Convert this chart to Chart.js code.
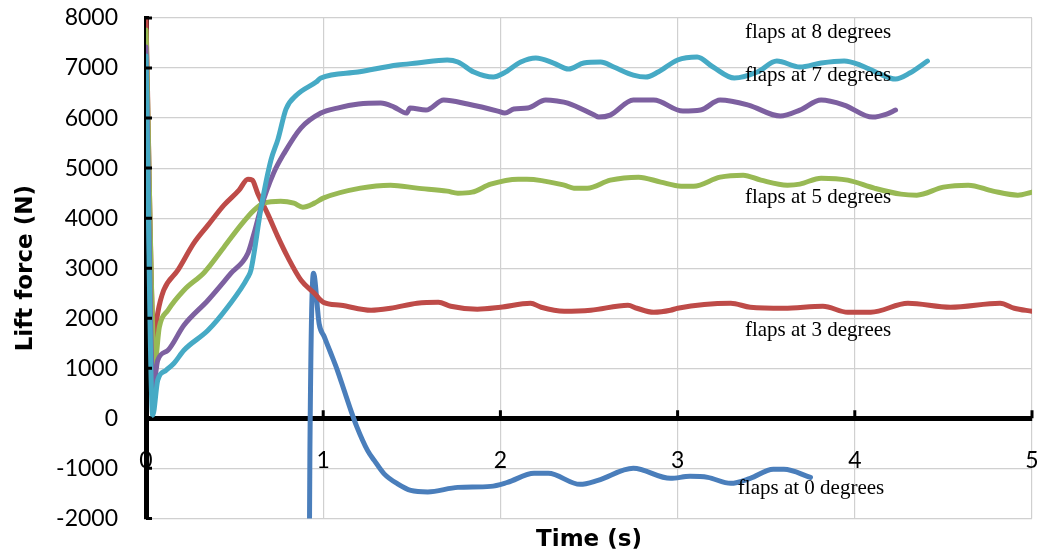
<!DOCTYPE html>
<html>
<head>
<meta charset="utf-8">
<script src="https://cdn.jsdelivr.net/npm/chart.js@4.4.1/dist/chart.umd.min.js"></script>
<style>
  html, body { margin: 0; padding: 0; background: #fff; }
  #wrap { width: 1042px; height: 559px; }
</style>
</head>
<body>
<div id="wrap"><canvas id="chart"></canvas></div>
<script>
// time (s) / lift force (N)
const flaps0Time = [0.922, 0.925, 0.945, 0.977, 1.006, 1.043, 1.08, 1.118, 1.156, 1.19,
    1.25, 1.288, 1.344, 1.42, 1.494, 1.59, 1.76, 1.945, 2.04, 2.19,
    2.27, 2.45, 2.55, 2.75, 2.96, 3.07, 3.17, 3.30, 3.41, 3.54,
    3.60, 3.75];
const flaps0Lift = [-2600, -650, 2900, 1890, 1630, 1300, 960, 560, 160, -170,
    -640, -840, -1110, -1310, -1440, -1470, -1380, -1360, -1280, -1100,
    -1100, -1320, -1240, -1000, -1200, -1160, -1180, -1300, -1200, -1020,
    -1020, -1180];

const flaps3Time = [0, 0.045, 0.066, 0.10, 0.18, 0.27, 0.35, 0.44, 0.525, 0.575,
    0.60, 0.63, 0.69, 0.745, 0.80, 0.875, 0.95, 1.0, 1.10, 1.27,
    1.38, 1.53, 1.65, 1.72, 1.87, 2.0, 2.17, 2.23, 2.36, 2.51,
    2.72, 2.77, 2.865, 2.96, 3.0, 3.30, 3.41, 3.60, 3.82, 3.96,
    4.09, 4.30, 4.54, 4.82, 4.90, 5.0];
const flaps3Lift = [8000, 1560, 2100, 2560, 2960, 3500, 3860, 4260, 4560, 4780,
    4760, 4500, 4060, 3620, 3220, 2760, 2500, 2320, 2260, 2160,
    2200, 2300, 2320, 2240, 2180, 2220, 2300, 2220, 2140, 2160,
    2260, 2200, 2120, 2160, 2200, 2300, 2220, 2200, 2240, 2120,
    2120, 2300, 2220, 2300, 2200, 2140];

const flaps5Time = [0, 0.05, 0.075, 0.124, 0.214, 0.33, 0.44, 0.535, 0.61, 0.665,
    0.76, 0.835, 0.885, 0.95, 1.0, 1.21, 1.38, 1.53, 1.70, 1.76,
    1.84, 1.945, 2.10, 2.15, 2.36, 2.415, 2.49, 2.62, 2.78, 2.905,
    3.02, 3.09, 3.24, 3.37, 3.47, 3.62, 3.69, 3.81, 3.96, 4.11,
    4.26, 4.35, 4.50, 4.64, 4.78, 4.92, 5.0];
const flaps5Lift = [7760, 1100, 1820, 2160, 2560, 2920, 3420, 3860, 4160, 4300,
    4340, 4300, 4220, 4300, 4400, 4600, 4660, 4600, 4540, 4500,
    4520, 4680, 4780, 4780, 4660, 4600, 4600, 4760, 4820, 4720,
    4640, 4640, 4820, 4860, 4760, 4660, 4680, 4800, 4760, 4600,
    4480, 4460, 4620, 4660, 4540, 4460, 4520];

const flaps7Time = [0, 0.04, 0.066, 0.124, 0.214, 0.35, 0.48, 0.575, 0.61, 0.65,
    0.72, 0.78, 0.874, 0.987, 1.08, 1.20, 1.325, 1.40, 1.47, 1.49,
    1.58, 1.68, 1.815, 1.985, 2.025, 2.076, 2.154, 2.256, 2.32, 2.38,
    2.53, 2.555, 2.62, 2.75, 2.865, 3.03, 3.13, 3.24, 3.40, 3.58,
    3.69, 3.81, 3.94, 4.10, 4.18, 4.23];
const flaps7Lift = [7420, 600, 1160, 1360, 1860, 2360, 2900, 3300, 3700, 4220,
    4900, 5300, 5800, 6100, 6200, 6280, 6300, 6220, 6100, 6200,
    6160, 6360, 6280, 6140, 6100, 6180, 6200, 6360, 6340, 6300,
    6060, 6020, 6060, 6360, 6360, 6140, 6160, 6360, 6260, 6040,
    6160, 6360, 6260, 6020, 6080, 6160];

const flaps8Time = [0, 0.038, 0.066, 0.113, 0.158, 0.214, 0.35, 0.46, 0.575, 0.592,
    0.65, 0.705, 0.745, 0.79, 0.85, 0.96, 0.987, 1.196, 1.42, 1.53,
    1.70, 1.76, 1.85, 1.96, 2.02, 2.115, 2.20, 2.30, 2.385, 2.47,
    2.566, 2.64, 2.75, 2.82, 2.89, 3.0, 3.11, 3.20, 3.32, 3.45,
    3.56, 3.69, 3.81, 3.94, 4.03, 4.13, 4.23, 4.31, 4.41];
const flaps8Lift = [7240, 60, 760, 960, 1100, 1360, 1760, 2220, 2820, 2960,
    4220, 5160, 5580, 6180, 6460, 6720, 6800, 6920, 7060, 7100,
    7160, 7120, 6920, 6820, 6900, 7120, 7200, 7100, 6980, 7100,
    7120, 7020, 6860, 6820, 6920, 7160, 7220, 7020, 6800, 6920,
    7140, 7020, 7100, 7140, 7060, 6900, 6780, 6900, 7140];

// in-plot labels, anchored in data units
const labelText = ["flaps at 8 degrees", "flaps at 7 degrees", "flaps at 5 degrees",
    "flaps at 3 degrees", "flaps at 0 degrees"];
const labelTime = [3.38, 3.38, 3.38, 3.38, 3.34];
const labelLift = [7720, 6860, 4420, 1760, -1400];

const xTicks = [0, 1, 2, 3, 4, 5];

const gridColor = "#d0d0d0";
const tickFont = { family: "Lato", size: 23 };
const titleFont = { family: "DejaVu Sans", size: 23, weight: "bold" };

const pairs = (xs, ys) => xs.map((x, i) => ({ x: x, y: ys[i] }));

const line = (data, color) => ({
    data: data,
    showLine: true,
    borderColor: color,
    backgroundColor: color,
    borderWidth: 5,
    pointRadius: 0,
    cubicInterpolationMode: "monotone",
    borderCapStyle: "round",
    borderJoinStyle: "round"
});

// label overflow should not push the plot area around
const noScalePadding = scale => {
    scale.paddingTop = 0;
    scale.paddingBottom = 0;
    scale.paddingLeft = 0;
    scale.paddingRight = 0;
};

// small black tick marks pointing into the plot, and the series labels
const axisMarks = {
    id: "axisMarks",
    afterDatasetsDraw(chart) {
        const { ctx, scales: { x, y } } = chart;
        const y0 = y.getPixelForValue(0);
        ctx.save();
        ctx.strokeStyle = "#000";
        ctx.lineWidth = 3;
        ctx.beginPath();
        y.ticks.forEach(t => {
            const py = y.getPixelForValue(t.value);
            ctx.moveTo(x.left, py);
            ctx.lineTo(x.left + 6, py);
        });
        xTicks.slice(1).forEach(v => {
            const px = x.getPixelForValue(v);
            ctx.moveTo(px, y0);
            ctx.lineTo(px, y0 - 8);
        });
        ctx.stroke();

        ctx.fillStyle = "#000";
        ctx.font = '21px "Liberation Serif"';
        ctx.textBaseline = "middle";
        ctx.textAlign = "left";
        labelText.forEach((t, i) => {
            ctx.fillText(t, x.getPixelForValue(labelTime[i]), y.getPixelForValue(labelLift[i]));
        });
        ctx.restore();
    }
};

new Chart(document.getElementById("chart"), {
    type: "scatter",
    data: {
        datasets: [
            line(pairs(flaps8Time, flaps8Lift), "#46aac5"),
            line(pairs(flaps7Time, flaps7Lift), "#7d60a0"),
            line(pairs(flaps5Time, flaps5Lift), "#98b954"),
            line(pairs(flaps3Time, flaps3Lift), "#be4b48"),
            line(pairs(flaps0Time, flaps0Lift), "#4a7ebb")
        ]
    },
    options: {
        responsive: true,
        maintainAspectRatio: false,
        animation: false,
        layout: {
            padding: { left: 0, right: 10, top: 18, bottom: 1 }
        },
        plugins: {
            legend: { display: false },
            tooltip: { enabled: false },
            title: {
                display: true,
                text: "Time (s)",
                position: "bottom",
                fullSize: false,
                color: "#000",
                font: titleFont,
                padding: { top: 8, bottom: 4 }
            }
        },
        scales: {
            x: {
                type: "linear",
                min: 0,
                max: 5,
                position: { y: 0 },
                afterBuildTicks: scale => {
                    scale.ticks = xTicks.map(v => ({ value: v }));
                },
                afterFit: noScalePadding,
                grid: {
                    color: gridColor,
                    lineWidth: 1.2,
                    drawTicks: false
                },
                border: { color: "#000", width: 5 },
                ticks: {
                    color: "#000",
                    font: tickFont,
                    padding: 28,
                    maxRotation: 0,
                    callback: v => String(v)
                }
            },
            y: {
                min: -2000,
                max: 8000,
                afterFit: scale => {
                    noScalePadding(scale);
                    scale.width = 146;
                },
                grid: {
                    color: gridColor,
                    lineWidth: 1.2,
                    drawTicks: false
                },
                border: { color: "#000", width: 5 },
                ticks: {
                    stepSize: 1000,
                    color: "#000",
                    font: tickFont,
                    padding: 28,
                    callback: v => String(v)
                },
                title: {
                    display: true,
                    text: "Lift force (N)",
                    color: "#000",
                    font: titleFont,
                    padding: { top: 12, bottom: 0 }
                }
            }
        }
    },
    plugins: [axisMarks]
});
</script>
</body>
</html>
